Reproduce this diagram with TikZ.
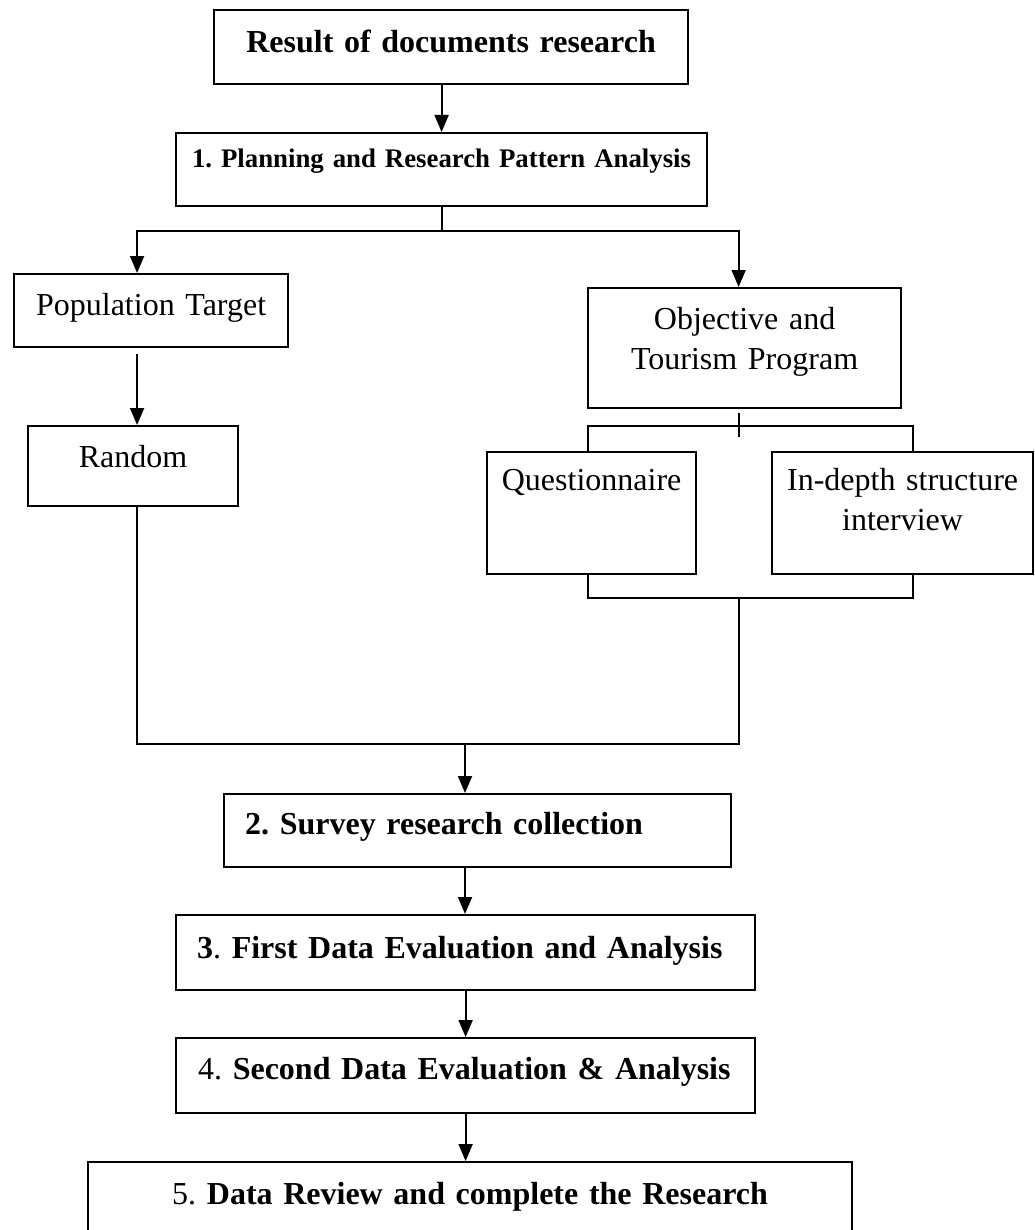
\documentclass[tikz,border=0pt]{standalone}
\usepackage{fontspec}
\setmainfont{Liberation Serif}
\usetikzlibrary{positioning, arrows.meta}

\newcommand{\boxfont}{\fontsize{16}{20}\selectfont\frenchspacing}
\newcommand{\stepfont}{\fontsize{13.4}{16}\selectfont\frenchspacing}

\tikzset{
    flowbox/.style={draw, line width=1.1pt, inner sep=0pt, anchor=north west,
        align=center, text width=#1, font=\boxfont},
    link/.style={line width=0.9pt},
    arr/.style={link, -{Triangle[width=7pt,length=8.5pt]}}
}

\begin{document}
\begin{tikzpicture}[x=0.5pt, y=-0.5pt]
    \useasboundingbox (0,0) rectangle (1034,1230);

    \node[flowbox=237pt, text height=21pt, text depth=16pt] (docs) at (213,9) {\textbf{Result of documents research}};
    \node[flowbox=265.5pt, text height=17pt, text depth=19.5pt, font=\stepfont] (plan) at (175,132) {\textbf{1. Planning and Research Pattern Analysis}};
    \node[flowbox=137pt, text height=20.5pt, text depth=16pt] (pop) at (13,273) {Population Target};
    \node[flowbox=156.5pt, text height=20.5pt, text depth=39.5pt] (obj) at (587,287) {Objective and\\Tourism Program};
    \node[flowbox=105pt, text height=20.5pt, text depth=19.5pt] (rand) at (27,425) {Random};
    \node[flowbox=104.5pt, text height=19pt, text depth=42pt] (quest) at (486,451) {Questionnaire};
    \node[flowbox=130.5pt, text height=19pt, text depth=42pt] (intv) at (771,451) {In-depth structure\\interview};
    \node[flowbox=253.5pt, text height=20pt, text depth=16.5pt, align=left] (survey) at (223,793) {\hspace*{10.5pt}\textbf{2. Survey research collection}};
    \node[flowbox=289.5pt, text height=21.5pt, text depth=16pt, align=left] (first) at (175,914) {\hspace*{10.5pt}\textbf{3}. \textbf{First Data Evaluation and Analysis}};
    \node[flowbox=289.5pt, text height=20.5pt, text depth=17pt, align=left] (second) at (175,1037) {\hspace*{11pt}4. \textbf{Second Data Evaluation \& Analysis}};
    \node[flowbox=382pt, text height=21pt, text depth=16.5pt] (review) at (87,1161) {5. \textbf{Data Review and complete the Research}};

    % split below step 1
    \coordinate (split) at ([yshift=-12pt]plan.south);
    \coordinate (lcol) at ([xshift=-7pt]pop.south);
    \coordinate (rcol) at ([xshift=-3pt]obj.south);
    \coordinate (qbar) at ([yshift=-11.5pt]quest.south);
    \coordinate (join) at (465,744);

    \draw[arr] (docs.south -| plan.north) -- (plan.north);
    \draw[link] (plan.south) -- (split);
    \draw[arr] (split) -| ([xshift=-7pt]pop.north);
    \draw[arr] (split) -| ([xshift=-3pt]obj.north);
    \draw[arr] ([yshift=-3pt]lcol) -- (lcol |- rand.north);

    % brackets round the two methods
    \draw[link] ([yshift=-2pt]rcol) -- ([yshift=-14pt]rcol);
    \draw[link] ([xshift=-2pt]quest.north) -- ++(0,-25) -| ([xshift=5pt]intv.north);
    \draw[link] ([xshift=-2pt]quest.south) -- ([xshift=-2pt]qbar) -| ([xshift=5pt]intv.south);

    % merge into step 2
    \draw[link] (lcol |- rand.south) |- (rcol |- join) -- (rcol |- qbar);
    \draw[arr] (join) -- (join |- survey.north);
    \draw[arr] (join |- survey.south) -- (join |- first.north);
    \draw[arr] (first.south) -- (second.north);
    \draw[arr] (second.south) -- (second.south |- review.north);
\end{tikzpicture}
\end{document}
